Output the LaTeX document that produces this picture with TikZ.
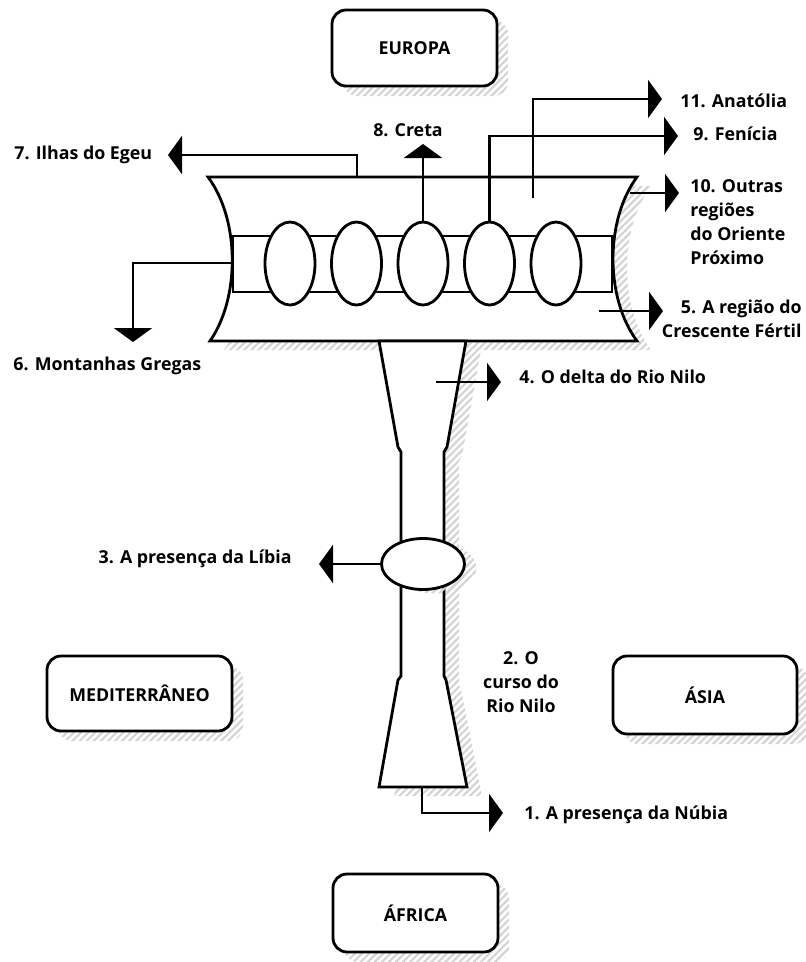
\documentclass[tikz,border=0pt]{standalone}
\usepackage{fontspec}
\setmainfont{Open Sans}
\usetikzlibrary{arrows.meta,patterns.meta,shapes.geometric,shadows}

% outline of the upper basin (concave left and right sides)
\newcommand{\basinpath}{(208,177) -- (637,177) .. controls (605,220) and (605,298) .. (637,341) -- (210,341) .. controls (240,298) and (240,220) .. (208,177) -- cycle}
% outline of the river course below the basin
\newcommand{\coursepath}{(379,341) -- (398,447) -- (401,452) -- (401,676) -- (398,680) -- (379,787) -- (467,787) -- (446,680) -- (444,676) -- (444,452) -- (447,447) -- (466,341) -- cycle}

\begin{document}
\begin{tikzpicture}[x=1pt,y=-1pt,line width=2.8pt,
  every node/.style={font=\bfseries\fontsize{17.8}{23.7}\selectfont,inner sep=0pt},
  hatchshadow/.style={pattern={Lines[angle=45,distance=5pt,line width=2.2pt]},pattern color=black!17,draw=none},
  regbox/.style={draw,fill=white,rounded corners=14pt,
    general shadow={hatchshadow,shadow xshift=11pt,shadow yshift=-10pt}},
  lens/.style={ellipse,draw,fill=white,minimum width=50pt,minimum height=83pt},
  flow/.style={-{Triangle[length=14pt,width=38pt]}},
  lbl/.style={anchor=base west,align=left}]

\useasboundingbox (0,0) rectangle (806,962);

% region boxes
\node[regbox,minimum width=165pt,minimum height=76pt] (europa) at (414.5,48) {EUROPA};
\node[regbox,minimum width=185pt,minimum height=75pt] (med) at (139.5,693.5) {MEDITERRÂNEO};
\node[regbox,minimum width=184pt,minimum height=78pt] (asia) at (705,695) {ÁSIA};
\node[regbox,minimum width=165pt,minimum height=78pt] (africa) at (415.5,913) {ÁFRICA};

% shadows of the basin and the course
\path[hatchshadow,shift={(14,9)}] \basinpath;
\path[hatchshadow,shift={(15,9)}] \coursepath;

% basin
\draw[fill=white] \basinpath;
\draw[fill=white] (233,236) rectangle (612,292);
\foreach \i/\x in {1/290,2/356.5,3/423,4/489.5,5/556}
  \node[lens] (e\i) at (\x,263.5) {};

% river course with the oval on it
\draw[fill=white] \coursepath;
\node[ellipse,draw,fill=white,minimum width=83pt,minimum height=51pt,
  general shadow={hatchshadow,shadow xshift=12pt,shadow yshift=-4pt}] (oval) at (423,564) {};

% connector end points
\coordinate (egeuS) at (357,177);   \coordinate (egeuT) at (168,155);
\coordinate (cretaT) at (423,144);
\coordinate (fenT) at (678,136);
\coordinate (anaS) at (533,198);    \coordinate (anaT) at (662,99);
\coordinate (outS) at (630,193);    \coordinate (outT) at (679,193);
\coordinate (cresS) at (599,311);   \coordinate (cresT) at (663,311);
\coordinate (montS) at (232,263);   \coordinate (montT) at (133,342);
\coordinate (deltaS) at (436,382);  \coordinate (deltaT) at (501,382);
\coordinate (libT) at (319,564);
\coordinate (nubS) at (422,787);    \coordinate (nubT) at (503,813);

% connectors
\draw[flow] (egeuS) |- (egeuT);
\draw[flow] (e3.north) -- (cretaT);
\draw[flow] (e4.north) |- (fenT);
\draw[flow] (anaS) |- (anaT);
\draw[flow] (outS) -- (outT);
\draw[flow] (cresS) -- (cresT);
\draw[flow] (montS) -| (montT);
\draw[flow] (deltaS) -- (deltaT);
\draw[flow] (oval.west) -- (libT);
\draw[flow] (nubS) |- (nubT);

% labels (multi-line labels are anchored at their last line)
\node[lbl] (l11) at (679,107) {11. Anatólia};
\node[lbl] (l9) at (692,140) {9. Fenícia};
\node[lbl] (l10) at (689,264) {10. Outras\\regiões\\do Oriente\\Próximo};
\node[anchor=base east,align=right] (l5) at (803,337) {5. A região do\\Crescente Fértil};
\node[anchor=base] (l8) at (408,136) {8. Creta};
\node[lbl] (l7) at (13,159) {7. Ilhas do Egeu};
\node[lbl] (l6) at (12,370) {6. Montanhas Gregas};
\node[lbl] (l4) at (518,383) {4. O delta do Rio Nilo};
\node[anchor=base east] (l3) at (293,563) {3. A presença da Líbia};
\node[anchor=base,align=center] (l2) at (521,712) {2. O\\curso do\\Rio Nilo};
\node[lbl] (l1) at (523,819) {1. A presença da Núbia};
\end{tikzpicture}
\end{document}
